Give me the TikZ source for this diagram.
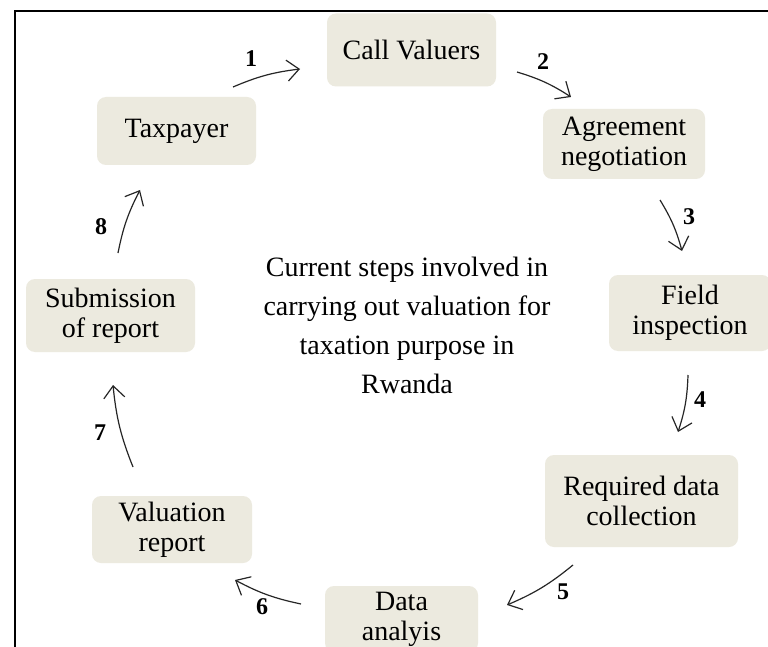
\documentclass[tikz,border=0pt]{standalone}
\usepackage{fontspec}
\setmainfont{Liberation Serif}
\usetikzlibrary{arrows.meta}
\definecolor{boxfill}{RGB}{236,234,223}
\begin{document}
\begin{tikzpicture}[x=1pt,y=-1pt,
  stepbox/.style={fill=boxfill, rounded corners=9pt, inner sep=0pt, align=center,
    font=\fontsize{28}{30}\selectfont},
  num/.style={font=\fontsize{24}{24}\selectfont\bfseries, inner sep=0pt},
  flow/.style={-{Straight Barb[length=12pt,width=21pt]}, line width=1.2pt, draw=black!85, bend left=8},
  centertext/.style={align=center, font=\fontsize{28}{39}\selectfont, inner sep=0pt}]
\useasboundingbox (0,0) rectangle (768,647);
\fill[white] (0,0) rectangle (768,647);
% frame
\draw[line width=2.4pt] (15,647) -- (15,11) -- (768,11);
% boxes
\node[stepbox, minimum width=169pt, minimum height=73pt] (call) at (411.5,50) {Call Valuers};
\node[stepbox, minimum width=159pt, minimum height=68pt] (tax) at (176.5,131) {Taxpayer};
\node[stepbox, minimum width=162pt, minimum height=70pt] (agree) at (624,144) {Agreement\\negotiation};
\node[stepbox, minimum width=162pt, minimum height=76pt] (field) at (690,313) {Field\\inspection};
\node[stepbox, minimum width=193pt, minimum height=92pt] (req) at (641.5,501) {Required data\\collection};
\node[stepbox, minimum width=153pt, minimum height=66pt] (data) at (401.5,619) {Data\\analyis};
\node[stepbox, minimum width=160pt, minimum height=67pt] (valrep) at (172,529.5) {Valuation\\report};
\node[stepbox, minimum width=169pt, minimum height=73pt] (sub) at (110.5,315.5) {Submission\\of report};
% centre text
\node[centertext] (centre) at (407,325) {Current steps involved in\\carrying out valuation for\\taxation purpose in\\Rwanda};
% arrow end points
\coordinate (s1) at (233,87);  \coordinate (e1) at (300,69);
\coordinate (s2) at (517,72);  \coordinate (e2) at (571,97);
\coordinate (s3) at (660,200); \coordinate (e3) at (682,251);
\coordinate (s4) at (688,375); \coordinate (e4) at (678,432);
\coordinate (s5) at (573,565); \coordinate (e5) at (507,605);
\coordinate (s6) at (301,604); \coordinate (e6) at (235,580);
\coordinate (s7) at (133,467); \coordinate (e7) at (113,385);
\coordinate (s8) at (118,253); \coordinate (e8) at (140,190);
\draw[flow] (s1) to (e1);
\draw[flow] (s2) to (e2);
\draw[flow] (s3) to (e3);
\draw[flow] (s4) to (e4);
\draw[flow] (s5) to (e5);
\draw[flow] (s6) to (e6);
\draw[flow] (s7) to (e7);
\draw[flow] (s8) to (e8);
% numbers
\node[num] (n1) at (251,59) {1};
\node[num] (n2) at (543,62) {2};
\node[num] (n3) at (689,217) {3};
\node[num] (n4) at (700,400) {4};
\node[num] (n5) at (563,592) {5};
\node[num] (n6) at (262,607) {6};
\node[num] (n7) at (100,433) {7};
\node[num] (n8) at (101,227) {8};
\end{tikzpicture}
\end{document}
